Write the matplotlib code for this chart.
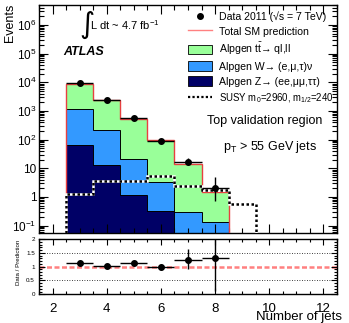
import numpy as np
import matplotlib
matplotlib.use('Agg')
import matplotlib.pyplot as plt
from matplotlib.patches import Patch
from matplotlib.lines import Line2D
from matplotlib.ticker import MultipleLocator, LogLocator, FuncFormatter, NullFormatter

plt.rcParams['font.family'] = ['Liberation Sans', 'DejaVu Sans']
plt.rcParams['mathtext.fontset'] = 'custom'
plt.rcParams['mathtext.rm'] = 'Liberation Sans'
plt.rcParams['mathtext.it'] = 'Liberation Sans:italic'
plt.rcParams['mathtext.bf'] = 'Liberation Sans:bold'

# bins (number of jets)
n_jets = [3, 4, 5, 6, 7, 8]
z_jets = [64, 12.7, 1.2, 0.32, 0.03, 0.0]
w_jets = [1147, 199, 20.6, 3.0, 0.27, 0.13]
ttbar = [7290, 2220, 498, 91.7, 13.3, 1.40]
data = [9600, 2500, 585, 93, 17, 2]
data_err_lo = [98, 50, 24, 10, 4.1, 1.25]
data_err_hi = [98, 50, 24, 10, 5.2, 3.0]
ratio_err_lo = [0.02, 0.03, 0.05, 0.1, 0.32, 1.18]
ratio_err_hi = [0.02, 0.03, 0.05, 0.1, 0.38, 1.0]
susy_jets = [3, 4, 5, 6, 7, 8, 9]
susy = [1.3, 3.5, 3.5, 5.2, 2.35, 1.7, 0.55]

c_tt = '#99ff99'
c_w = '#3399ff'
c_z = '#000066'
c_sm = '#e84040'

floor = 1e-3
edges = np.append(np.array(n_jets) - 0.5, n_jets[-1] + 0.5)
s_edges = np.append(np.array(susy_jets) - 0.5, susy_jets[-1] + 0.5)
z = np.array(z_jets)
zw = z + np.array(w_jets)
sm = zw + np.array(ttbar)

fig = plt.figure(figsize=(3.49, 3.23), dpi=100)
ax = fig.add_axes([0.1117, 0.2786, 0.854, 0.7059])
rax = fig.add_axes([0.1117, 0.0889, 0.854, 0.171])

# stacked backgrounds
ax.stairs(sm, edges, baseline=floor, fill=True, color=c_tt, lw=0, zorder=1)
ax.stairs(zw, edges, baseline=floor, fill=True, color=c_w, lw=0, zorder=1)
ax.stairs(np.maximum(z, floor), edges, baseline=floor, fill=True, color=c_z, lw=0, zorder=1)
ax.stairs(zw, edges, baseline=None, color='k', lw=0.7, zorder=2)
ax.stairs(np.maximum(z, floor), edges, baseline=None, color='k', lw=0.7, zorder=2)
ax.stairs(sm, edges, baseline=floor, color=c_sm, lw=1.0, zorder=3)

# SUSY signal
ax.stairs(susy, s_edges, baseline=floor, color='white', lw=1.8, zorder=4)
ax.stairs(susy, s_edges, baseline=floor, color='k', lw=1.8, ls=(0, (1, 1)), zorder=5)

# data
ax.errorbar(n_jets, data, xerr=0.5, yerr=[data_err_lo, data_err_hi], fmt='o', color='k',
            ms=4, elinewidth=1, capsize=0, zorder=6)

ax.set_yscale('log')
ax.set_ylim(0.055, 5e6)
ax.set_xlim(1.5, 12.5)

def log_fmt(v, pos):
    e = int(round(np.log10(v)))
    if e == 0:
        return '1'
    if e == 1:
        return '10'
    return '$10^{%d}$' % e

ax.yaxis.set_major_locator(LogLocator(base=10, numticks=20))
ax.yaxis.set_minor_locator(LogLocator(base=10, subs=np.arange(2, 10), numticks=20))
ax.yaxis.set_major_formatter(FuncFormatter(log_fmt))
ax.yaxis.set_minor_formatter(NullFormatter())
ax.xaxis.set_major_locator(MultipleLocator(2))
ax.xaxis.set_minor_locator(MultipleLocator(0.5))
ax.tick_params(axis='x', which='both', labelbottom=False)
ax.tick_params(which='both', direction='in', top=True, right=True, width=0.8)
ax.tick_params(which='major', length=6.5, labelsize=8.5, pad=2)
ax.tick_params(which='minor', length=3.5, labelleft=False)

# ratio panel
ratio = np.array(data) / sm
rax.axhline(1.0, color='#ff8080', lw=1.8, ls=(0, (2, 1)), zorder=1)
rax.axhline(0.5, color='k', lw=0.6, ls=(0, (1, 2)), zorder=1)
rax.axhline(1.5, color='k', lw=0.6, ls=(0, (1, 2)), zorder=1)
rax.errorbar(n_jets, ratio, xerr=0.5, yerr=[ratio_err_lo, ratio_err_hi], fmt='o', color='k',
             ms=4, elinewidth=1, capsize=0, zorder=3)
rax.set_xlim(1.5, 12.5)
rax.set_ylim(0, 2)
rax.xaxis.set_major_locator(MultipleLocator(2))
rax.xaxis.set_minor_locator(MultipleLocator(0.5))
rax.yaxis.set_major_locator(MultipleLocator(0.5))
rax.yaxis.set_minor_locator(MultipleLocator(0.1))
rax.yaxis.set_major_formatter(FuncFormatter(lambda v, p: '%g' % v))
rax.tick_params(which='both', direction='in', top=True, right=True, width=0.8)
rax.tick_params(axis='x', which='major', length=4, labelsize=9.5, pad=6)
rax.tick_params(axis='x', which='minor', length=2, labelbottom=False)
rax.tick_params(axis='y', which='major', length=4, labelsize=4.5, pad=3)
rax.tick_params(axis='y', which='minor', length=2, labelleft=False)

for a in (ax, rax):
    for s in a.spines.values():
        s.set_linewidth(1.0)

# legend
handles = [
    Line2D([], [], marker='o', color='k', ls='none', ms=4),
    Line2D([], [], color='#ff8080', lw=1),
    Patch(facecolor=c_tt, edgecolor='k', lw=0.6),
    Patch(facecolor=c_w, edgecolor='k', lw=0.6),
    Patch(facecolor=c_z, edgecolor='k', lw=0.6),
    Line2D([], [], color='k', ls=(0, (1, 1)), lw=1.6),
]
labels = [
    'Data 2011 (\u221as = 7 TeV)',
    'Total SM prediction',
    'Alpgen $\\mathrm{t\\bar{t}}$\u2192 ql,ll',
    'Alpgen W\u2192 (e,\u03bc,\u03c4)\u03bd',
    'Alpgen Z\u2192 (ee,\u03bc\u03bc,\u03c4\u03c4)',
    'SUSY m$_0$=2960, m$_{1/2}$=240',
]
leg = ax.legend(handles, labels, loc='upper left', bbox_to_anchor=(188 / 349, 1 - 11 / 323),
                bbox_transform=fig.transFigure, frameon=False, fontsize=7.6, handlelength=2.3,
                handleheight=1.0, handletextpad=0.6, labelspacing=0.42, borderpad=0, borderaxespad=0)
leg.get_texts()[5].set_fontsize(6.9)

# text
fig.text(79 / 349, 1 - 25 / 323, '\u222b', fontsize=21, family='DejaVu Sans', ha='left', va='center')
fig.text(90 / 349, 1 - 25 / 323, 'L dt ~ 4.7 fb$^{-1}$', fontsize=8, ha='left', va='center')
fig.text(63 / 349, 1 - 52 / 323, 'ATLAS', fontsize=9, weight='bold', style='italic', ha='left', va='center')
fig.text(322 / 349, 1 - 121 / 323, 'Top validation region', fontsize=9, ha='right', va='center')
fig.text(317 / 349, 1 - 147 / 323, 'p$_\\mathrm{T}$ > 55 GeV jets', fontsize=9, ha='right', va='center')
fig.text(10 / 349, 1 - 4 / 323, 'Events', fontsize=9, rotation=90, ha='center', va='top')
fig.text(19 / 349, 1 - 262.5 / 323, 'Data / Prediction', fontsize=4.4, rotation=90, ha='center', va='center')
fig.text(342 / 349, 1 - 317 / 323, 'Number of jets', fontsize=9.5, ha='right', va='center')

fig.savefig('out.png', dpi=100)
